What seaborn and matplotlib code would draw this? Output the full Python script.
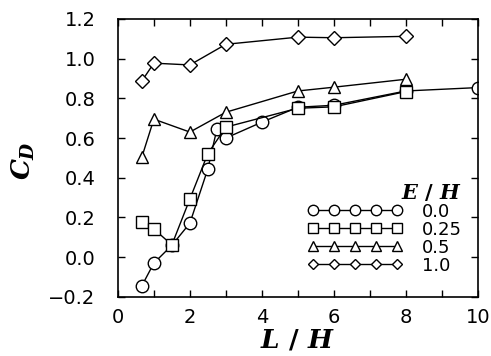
import numpy as np
import pandas as pd
import seaborn as sns
import matplotlib
matplotlib.use('Agg')
import matplotlib.pyplot as plt
from matplotlib.lines import Line2D
from matplotlib.ticker import MultipleLocator

# Drag coefficient vs L/H for several E/H values
x_00 = [0.67, 1.0, 1.5, 2.0, 2.5, 2.75, 3.0, 4.0, 5.0, 6.0, 8.0, 10.0]
cd_00 = [-0.143, -0.03, 0.06, 0.171, 0.445, 0.645, 0.60, 0.68, 0.755, 0.765, 0.837, 0.854]

x_025 = [0.67, 1.0, 1.5, 2.0, 2.5, 3.0, 5.0, 6.0, 8.0]
cd_025 = [0.179, 0.142, 0.062, 0.293, 0.522, 0.655, 0.75, 0.757, 0.834]

x_05 = [0.67, 1.0, 2.0, 3.0, 5.0, 6.0, 8.0]
cd_05 = [0.506, 0.695, 0.63, 0.73, 0.837, 0.856, 0.896]

x_10 = [0.67, 1.0, 2.0, 3.0, 5.0, 6.0, 8.0]
cd_10 = [0.888, 0.977, 0.968, 1.072, 1.108, 1.105, 1.112]

labels = ['0.0', '0.25', '0.5', '1.0']
markers = ['o', 's', '^', 'D']

frames = []
for lab, xs, ys in zip(labels, [x_00, x_025, x_05, x_10], [cd_00, cd_025, cd_05, cd_10]):
    frames.append(pd.DataFrame({'LH': xs, 'CD': ys, 'EH': lab}))
df = pd.concat(frames, ignore_index=True)

sns.set_style('ticks')
plt.rcParams['font.family'] = ['DejaVu Sans']
plt.rcParams['mathtext.fontset'] = 'custom'
plt.rcParams['mathtext.it'] = 'DejaVu Serif:italic:bold'
plt.rcParams['mathtext.rm'] = 'DejaVu Serif:bold'
for k in ['text.color', 'axes.labelcolor', 'xtick.color', 'ytick.color', 'axes.edgecolor']:
    plt.rcParams[k] = 'black'

fig = plt.figure(figsize=(4.91, 3.56), dpi=100)
ax = fig.add_axes([0.240, 0.166, 0.7335, 0.781])

msizes = {'o': 9, 's': 8, '^': 9, 'D': 7}
handles = []
for lab, m in zip(labels, markers):
    sub = df[df['EH'] == lab]
    sns.lineplot(data=sub, x='LH', y='CD', ax=ax, color='black', lw=1.0,
                 marker=m, ms=msizes[m], mfc='white', mec='black', mew=1.0,
                 legend=False, sort=True)
    handles.append(Line2D([], [], color='black', lw=1.0, marker=m, ms=msizes[m] - 1.5,
                          mfc='white', mec='black', mew=1.0))

ax.set_xlim(0, 10)
ax.set_ylim(-0.2, 1.2)
ax.xaxis.set_major_locator(MultipleLocator(2))
ax.xaxis.set_minor_locator(MultipleLocator(1))
ax.yaxis.set_major_locator(MultipleLocator(0.2))
ax.yaxis.set_major_formatter(plt.FuncFormatter(lambda v, p: f'{v:.1f}'.replace('-', '\u2212')))
ax.tick_params(which='both', direction='in', top=True, right=True, width=1.0, labelsize=14)
ax.tick_params(which='both', length=5)
ax.tick_params(axis='y', pad=16)
ax.tick_params(axis='x', pad=8)
for s in ax.spines.values():
    s.set_linewidth(1.2)

ax.set_xlabel(r'$L\ /\ H$', fontsize=19, labelpad=0)
ax.set_ylabel(r'$C_D$', fontsize=19)
ax.yaxis.set_label_coords(-0.225, 0.49)

leg = ax.legend(handles, labels, title=r'$E\ /\ H$', loc='lower right',
                bbox_to_anchor=(0.955, 0.08), frameon=False, numpoints=5,
                handlelength=5.2, handletextpad=1.1, labelspacing=0.0,
                fontsize=13, title_fontsize=15, alignment='right',
                borderaxespad=0, borderpad=0)

fig.savefig('out.png', dpi=100)
